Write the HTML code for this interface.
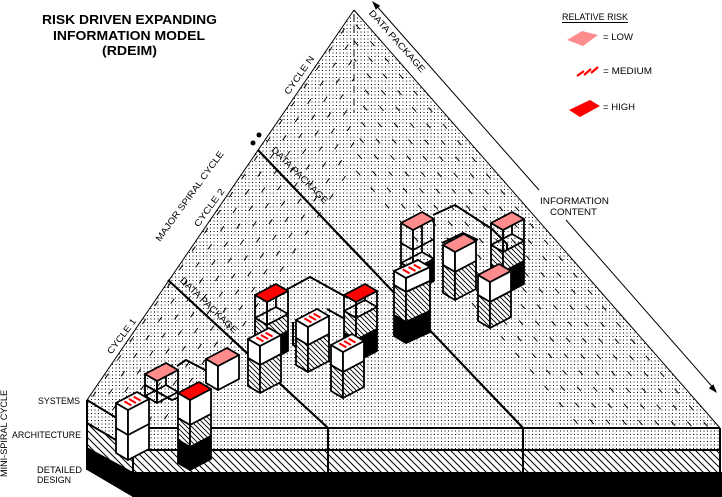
<!DOCTYPE html>
<html><head><meta charset="utf-8"><style>
html,body{margin:0;padding:0;background:#fff}
svg{display:block}
text{font-family:"Liberation Sans",Arial,sans-serif;fill:#000}
.e{stroke:#000;stroke-width:1.8;stroke-linejoin:round}
.w{fill:none;stroke:#000;stroke-width:2;stroke-linejoin:round}
</style></head><body>
<svg width="722" height="497" viewBox="0 0 722 497" xmlns="http://www.w3.org/2000/svg">
<defs>
<pattern id="dt" width="3.5" height="3.5" patternUnits="userSpaceOnUse"><rect width="3.5" height="3.5" fill="#fff"/><rect width="1" height="1" fill="#000"/></pattern>
<pattern id="hs" width="7" height="7" patternUnits="userSpaceOnUse"><rect width="7" height="7" fill="#fff"/><path d="M-1,-1L8,8M-1,6L1,8M6,-1L8,1" stroke="#000" stroke-width="1"/></pattern>
<pattern id="hb" width="5" height="5" patternUnits="userSpaceOnUse"><rect width="5" height="5" fill="#fff"/><path d="M-1,-1L6,6M-1,4L1,6M4,-1L6,1" stroke="#000" stroke-width="0.9"/></pattern>
<pattern id="dR" width="22" height="24" patternUnits="userSpaceOnUse" patternTransform="rotate(48.8)"><path d="M0,0.5h6M11,12.5h6" stroke="#000" stroke-width="1"/></pattern>
<pattern id="dL" width="22" height="24" patternUnits="userSpaceOnUse" patternTransform="rotate(-55.6)"><path d="M0,0.5h6M11,12.5h6" stroke="#000" stroke-width="1"/></pattern>
</defs>

<!-- surface -->
<polygon points="354,10 720,428 133,428 87,400" fill="url(#dt)"/>
<polygon points="354,10 354,171 178,428 133,428 87,400" fill="url(#dL)"/>
<polygon points="354,10 720,428 570,428 354,181" fill="url(#dR)"/>
<path d="M354,14V112" stroke="#000" stroke-width="1" stroke-dasharray="7,5"/>
<path d="M354,10L87,400M354,10L720,428" stroke="#000" stroke-width="1" fill="none"/>

<!-- slab -->
<polygon points="133,428 720,428 720,450 133,450" fill="url(#dt)"/>
<polygon points="133,450 720,450 720,472 133,472" fill="url(#hs)"/>
<polygon points="133,472 722,472 722,497 133,497" fill="#000"/>
<polygon points="87,400 133,428 133,450 87,423" fill="url(#dt)"/>
<polygon points="87,423 133,450 133,472 87,447" fill="url(#hs)"/>
<polygon points="87,447 133,472 133,497 87,470" fill="#000"/>
<path d="M87,400L133,428L720,428M87,423L133,450L720,450M87,400V470M133,428V497M328,428V472M523,428V472M720,428V472" stroke="#000" stroke-width="2" fill="none"/>

<!-- data package lines -->
<path d="M258,150L523,428M168,280L328,428" stroke="#000" stroke-width="2.2" fill="none"/>

<!-- information content arrow -->
<path d="M374,3L539,190M566,220L716,391" stroke="#000" stroke-width="1" fill="none"/>
<polygon points="372,1 380.2,5.8 375.8,9.8" fill="#000"/>
<polygon points="717,393 713.3,384.2 708.8,388.2" fill="#000"/>

<circle cx="253" cy="143" r="2.5" fill="#000"/>
<circle cx="259" cy="135" r="2.5" fill="#000"/>

<!-- RIGHT CLUSTER -->
<g transform="translate(413,230)" class="e">
<polygon points="0,0 -12,-7 -12,33 0,40" fill="none"/>
<polygon points="0,0 21,-11 21,29 0,40" fill="none"/>
<path d="M9,-18V22M-12,13L0,20L21,9M-12,33L9,22L21,29" fill="none"/>
<polygon points="0,40 -12,33 -12,55 0,62" fill="url(#hb)"/>
<polygon points="0,40 21,29 21,51 0,62" fill="#000"/>
<polygon points="0,0 -12,-7 9,-18 21,-11" fill="#ff8c8c"/>
</g>
<g transform="translate(503,230)" class="e">
<polygon points="0,0 -12,-7 -12,15 0,22" fill="none"/>
<polygon points="0,0 21,-11 21,11 0,22" fill="none"/>
<path d="M9,-18V4M-12,15L9,4L21,11" fill="none"/>
<polygon points="0,22 -12,15 -12,35 0,42" fill="url(#hb)"/>
<polygon points="0,22 21,11 21,31 0,42" fill="url(#hb)"/>
<polygon points="0,42 -12,35 -12,58 0,65" fill="#000"/>
<polygon points="0,42 21,31 21,54 0,65" fill="#000"/>
<polygon points="0,0 -12,-7 9,-18 21,-11" fill="#ff8c8c"/>
</g>
<path class="w" d="M433,215L455,205L492,229L507,244V250"/>
<path class="w" d="M442,243L463,233L478,240"/>
<g transform="translate(455,252)" class="e">
<polygon points="0,0 -12,-7 -12,13 0,20" fill="#fff"/>
<polygon points="0,0 21,-11 21,9 0,20" fill="#fff"/>
<polygon points="0,20 -12,13 -12,41 0,48" fill="url(#hb)"/>
<polygon points="0,20 21,9 21,37 0,48" fill="url(#hb)"/>
<polygon points="0,0 -12,-7 9,-18 21,-11" fill="#ff8c8c"/>
</g>
<g transform="translate(406,278)" class="e">
<polygon points="0,0 -12,-7 -12,7 0,14" fill="#fff"/>
<polygon points="0,0 24,-11 24,3 0,14" fill="#fff"/>
<polygon points="0,14 -12,7 -12,37 0,44" fill="url(#hb)"/>
<polygon points="0,14 24,3 24,33 0,44" fill="url(#hb)"/>
<polygon points="0,44 -12,37 -12,58 0,65" fill="#000"/>
<polygon points="0,44 24,33 24,54 0,65" fill="#000"/>
<polygon points="0,0 -12,-7 12,-18 24,-11" fill="#fff"/>
<path d="M-3.3,-8.6L3.7,-4.6M2.5,-11L9.5,-7M7.8,-13.4L14.8,-9.4" stroke="#f00" stroke-width="2"/>
</g>
<g transform="translate(490,282)" class="e">
<polygon points="0,0 -12,-7 -12,13 0,20" fill="#fff"/>
<polygon points="0,0 21,-11 21,9 0,20" fill="#fff"/>
<polygon points="0,20 -12,13 -12,39 0,46" fill="url(#hb)"/>
<polygon points="0,20 21,9 21,35 0,46" fill="url(#hb)"/>
<polygon points="0,0 -12,-7 9,-18 21,-11" fill="#ff8c8c"/>
</g>

<!-- MIDDLE CLUSTER -->
<path class="w" d="M286,290L310,277L348,298"/>
<g transform="translate(267,302)" class="e">
<polygon points="0,0 -12,-7 -12,16 0,23" fill="none"/>
<polygon points="0,0 21,-11 21,12 0,23" fill="none"/>
<path d="M9,-18V5M-12,16L9,5L21,12" fill="none"/>
<polygon points="0,23 -12,16 -12,33 0,40" fill="url(#hb)"/>
<polygon points="0,23 21,12 21,29 0,40" fill="url(#hb)"/>
<polygon points="0,40 -12,33 -12,53 0,60" fill="#000"/>
<polygon points="0,40 21,29 21,49 0,60" fill="#000"/>
<polygon points="0,0 -12,-7 9,-18 21,-11" fill="#f00"/>
</g>
<g transform="translate(356,302)" class="e">
<polygon points="0,0 -12,-7 -12,9 0,16" fill="none"/>
<polygon points="0,0 21,-11 21,5 0,16" fill="none"/>
<path d="M9,-18V-2M-12,9L9,-2L21,5" fill="none"/>
<polygon points="0,16 -12,9 -12,31 0,38" fill="url(#hb)"/>
<polygon points="0,16 21,5 21,27 0,38" fill="url(#hb)"/>
<polygon points="0,38 -12,31 -12,53 0,60" fill="#000"/>
<polygon points="0,38 21,27 21,49 0,60" fill="#000"/>
<polygon points="0,0 -12,-7 9,-18 21,-11" fill="#f00"/>
</g>
<path class="w" d="M293,322V345L330,362M327,309L345,319"/>
<g transform="translate(308,327)" class="e">
<polygon points="0,0 -12,-7 -12,11 0,18" fill="#fff"/>
<polygon points="0,0 21,-11 21,7 0,18" fill="#fff"/>
<polygon points="0,18 -12,11 -12,38 0,45" fill="url(#hb)"/>
<polygon points="0,18 21,7 21,34 0,45" fill="url(#hb)"/>
<polygon points="0,0 -12,-7 9,-18 21,-11" fill="#fff"/>
<path d="M-3.6,-8.6L3.4,-4.6M1,-11L8,-7M5.6,-13.4L12.6,-9.4" stroke="#f00" stroke-width="2"/>
</g>
<g transform="translate(260,346)" class="e">
<polygon points="0,0 -12,-7 -12,12 0,19" fill="#fff"/>
<polygon points="0,0 21,-11 21,8 0,19" fill="#fff"/>
<polygon points="0,19 -12,12 -12,40 0,47" fill="url(#hb)"/>
<polygon points="0,19 21,8 21,36 0,47" fill="url(#hb)"/>
<polygon points="0,0 -12,-7 9,-18 21,-11" fill="#fff"/>
<path d="M-3.6,-8.6L3.4,-4.6M1,-11L8,-7M5.6,-13.4L12.6,-9.4" stroke="#f00" stroke-width="2"/>
</g>
<g transform="translate(343,352)" class="e">
<polygon points="0,0 -12,-7 -12,13 0,20" fill="#fff"/>
<polygon points="0,0 21,-11 21,9 0,20" fill="#fff"/>
<polygon points="0,20 -12,13 -12,39 0,46" fill="url(#hb)"/>
<polygon points="0,20 21,9 21,35 0,46" fill="url(#hb)"/>
<polygon points="0,0 -12,-7 9,-18 21,-11" fill="#fff"/>
<path d="M-3.6,-8.6L3.4,-4.6M1,-11L8,-7M5.6,-13.4L12.6,-9.4" stroke="#f00" stroke-width="2"/>
</g>

<!-- LEFT CLUSTER -->
<path class="w" d="M177,366L186,360L207,371M145,385L172,400L182,396"/>
<g transform="translate(218,366)" class="e">
<polygon points="0,0 -12,-7 -12,17 0,24" fill="#fff"/>
<polygon points="0,0 21,-11 21,13 0,24" fill="#fff"/>
<polygon points="0,0 -12,-7 9,-18 21,-11" fill="#ff8c8c"/>
</g>
<g transform="translate(157,381)" class="e">
<polygon points="0,0 -12,-7 -12,15 0,22" fill="none"/>
<polygon points="0,0 21,-11 21,11 0,22" fill="none"/>
<path d="M9,-18V4M-12,15L9,4L21,11" fill="none"/>
<polygon points="0,0 -12,-7 9,-18 21,-11" fill="#ff8c8c"/>
</g>
<g transform="translate(128,410)" class="e">
<polygon points="0,0 -12,-7 -12,43 0,50" fill="#fff"/>
<polygon points="0,0 21,-11 21,39 0,50" fill="#fff"/>
<path d="M-12,18L0,25L21,14" fill="none"/>
<polygon points="0,0 -12,-7 9,-18 21,-11" fill="#fff"/>
<path d="M-3.6,-8.6L3.4,-4.6M1,-11L8,-7M5.6,-13.4L12.6,-9.4" stroke="#f00" stroke-width="2"/>
</g>
<g transform="translate(190,400)" class="e">
<polygon points="0,0 -12,-7 -12,18 0,25" fill="#fff"/>
<polygon points="0,0 21,-11 21,14 0,25" fill="#fff"/>
<polygon points="0,25 -12,18 -12,40 0,47" fill="url(#hb)"/>
<polygon points="0,25 21,14 21,36 0,47" fill="url(#hb)"/>
<polygon points="0,47 -12,40 -12,63 0,70" fill="#000"/>
<polygon points="0,47 21,36 21,59 0,70" fill="#000"/>
<polygon points="0,0 -12,-7 9,-18 21,-11" fill="#f00"/>
</g>

<!-- legend -->
<text x="562" y="20" font-size="9" textLength="66" lengthAdjust="spacingAndGlyphs">RELATIVE RISK</text>
<path d="M562,22.5H628" stroke="#000" stroke-width="1"/>
<polygon points="567,40 582,31 598,35 583,46" fill="#ff8c8c"/>
<text x="603" y="40" font-size="9.5" textLength="30" lengthAdjust="spacingAndGlyphs">= LOW</text>
<path d="M577,76L584,71M584,75L591,69M591,73L598,67" stroke="#f00" stroke-width="2.2"/>
<text x="603" y="74" font-size="9.5" textLength="49" lengthAdjust="spacingAndGlyphs">= MEDIUM</text>
<polygon points="569,110 590,100 600,106 580,117" fill="#f00"/>
<text x="603" y="110" font-size="9.5" textLength="32" lengthAdjust="spacingAndGlyphs">= HIGH</text>

<!-- title -->
<text x="42" y="24" font-size="12.5" font-weight="bold" textLength="175" lengthAdjust="spacingAndGlyphs">RISK DRIVEN EXPANDING</text>
<text x="53" y="40" font-size="12.5" font-weight="bold" textLength="152" lengthAdjust="spacingAndGlyphs">INFORMATION MODEL</text>
<text x="102" y="55" font-size="12.5" font-weight="bold" textLength="55" lengthAdjust="spacingAndGlyphs">(RDEIM)</text>

<text x="540" y="204" font-size="9" textLength="69" lengthAdjust="spacingAndGlyphs">INFORMATION</text>
<text x="550" y="215" font-size="9" textLength="47" lengthAdjust="spacingAndGlyphs">CONTENT</text>

<!-- rotated labels -->
<text transform="translate(288.8,95.3) rotate(-55)" font-size="9" textLength="45" lengthAdjust="spacingAndGlyphs">CYCLE N</text>
<text transform="translate(160,242) rotate(-54)" font-size="9" textLength="109" lengthAdjust="spacingAndGlyphs">MAJOR SPIRAL CYCLE</text>
<text transform="translate(198.5,227.6) rotate(-54)" font-size="9" textLength="45" lengthAdjust="spacingAndGlyphs">CYCLE 2</text>
<text transform="translate(111.4,354.8) rotate(-53)" font-size="9" textLength="42" lengthAdjust="spacingAndGlyphs">CYCLE 1</text>
<text transform="translate(368.4,13.3) rotate(48.4)" font-size="9" textLength="80" lengthAdjust="spacingAndGlyphs">DATA PACKAGE</text>
<text transform="translate(270.8,150.4) rotate(45)" font-size="9" textLength="76" lengthAdjust="spacingAndGlyphs">DATA PACKAGE</text>
<text transform="translate(179.4,280.9) rotate(44)" font-size="9" textLength="76" lengthAdjust="spacingAndGlyphs">DATA PACKAGE</text>

<!-- level labels -->
<text x="38" y="404" font-size="9" textLength="42" lengthAdjust="spacingAndGlyphs">SYSTEMS</text>
<text x="12" y="438" font-size="9" textLength="69" lengthAdjust="spacingAndGlyphs">ARCHITECTURE</text>
<text x="37" y="473" font-size="9" textLength="45" lengthAdjust="spacingAndGlyphs">DETAILED</text>
<text x="37" y="483" font-size="9" textLength="34" lengthAdjust="spacingAndGlyphs">DESIGN</text>
<text transform="translate(7,477) rotate(-90)" font-size="9" textLength="87" lengthAdjust="spacingAndGlyphs">MINI-SPIRAL CYCLE</text>
</svg>
</body></html>
